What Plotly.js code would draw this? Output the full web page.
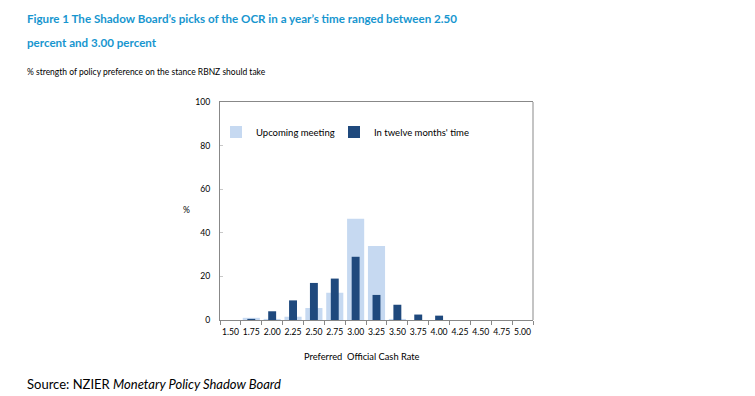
<!DOCTYPE html>
<html><head><meta charset="utf-8">
<script src="https://cdn.plot.ly/plotly-3.0.1.min.js"></script>
<style>html,body{margin:0;padding:0;background:#fff}#chart{width:755px;height:396px}</style>
</head><body><div id="chart"></div>
<script>
const categories = ["1.50","1.75","2.00","2.25","2.50","2.75","3.00","3.25","3.50","3.75","4.00","4.25","4.50","4.75","5.00"];
const upcoming = [0, 1, 0.5, 1.5, 5.5, 12.5, 46.5, 34, 0.5, 0, 0, 0, 0, 0, 0];
const twelveMonths = [0, 0.5, 4, 9, 17, 19, 29, 11.5, 7, 2.5, 2, 0, 0, 0, 0];
const yTicks = [0, 20, 40, 60, 80, 100];

const L = 220, R = 533, T = 102, B = 320, W = 755, H = 396;
const pw = R - L, ph = B - T;
const px = x => (x - L) / pw;
const py = y => (B - y) / ph;
const FAM = "Lato, 'Open Sans', sans-serif";

const ctx = document.createElement("canvas").getContext("2d");
function measure(parts, size) {
  let w = 0;
  for (const [t, style] of parts) { ctx.font = style + " " + size + "px Lato"; w += ctx.measureText(t).width; }
  return w;
}
function fit(parts, target) {
  const w = measure(parts, 100);
  return Math.round(100 * target / w * 10) / 10;
}

const t1 = "Figure 1 The Shadow Board’s picks of the OCR in a year’s time ranged between 2.50";
const titleSize = fit([[t1, "bold"]], 430);
const subSize = fit([["% strength of policy preference on the stance RBNZ should take", "normal"]], 238);
const srcSize = fit([["Source: NZIER ", "normal"], ["Monetary Policy Shadow Board", "italic"]], 255);
const xtSize = fit([["Preferred  Official Cash Rate", "normal"]], 115);
const legSize = fit([["Upcoming meeting", "normal"]], 79);
const tickSize = fit([["1.50", "normal"]], 17);

const traces = [
  {type: "bar", name: "Upcoming meeting", x: categories, y: upcoming,
   marker: {color: "#c6d9f1"}, width: 0.82, legend: "legend"},
  {type: "bar", name: "In twelve months' time", x: categories, y: twelveMonths,
   marker: {color: "#1f497d"}, width: 0.38, legend: "legend2"}
];

const legStyle = {orientation: "h", yanchor: "middle", xanchor: "left", y: py(132),
  font: {family: FAM, size: legSize, color: "#000"}, bgcolor: "rgba(0,0,0,0)"};

const layout = {
  width: W, height: H,
  margin: {l: L, r: W - R, t: T, b: H - B, pad: 0},
  paper_bgcolor: "#fff", plot_bgcolor: "#fff",
  barmode: "overlay",
  font: {family: FAM, size: tickSize, color: "#000"},
  showlegend: true,
  legend: Object.assign({}, legStyle, {x: px(216)}),
  legend2: Object.assign({}, legStyle, {x: px(334)}),
  xaxis: {type: "category", tickson: "boundaries", ticks: "outside", ticklen: 4, tickcolor: "#888",
          tickangle: 0, ticklabelstandoff: 4, showline: true, linecolor: "#888", linewidth: 1, mirror: true,
          showgrid: false, tickfont: {family: FAM, size: tickSize}, fixedrange: true},
  yaxis: {range: [0, 100], tickvals: yTicks, ticks: "inside", ticklen: 3, tickcolor: "#c8c8c8",
          ticklabelstandoff: 7, showline: true, linecolor: "#888", linewidth: 1, mirror: false, showgrid: false,
          zeroline: false, tickfont: {family: FAM, size: tickSize}, fixedrange: true},
  shapes: [
    {type: "line", xref: "paper", yref: "paper", x0: 1, x1: 1, y0: 0, y1: 1,
     line: {color: "#c4c4c4", width: 2}}
  ],
  annotations: [
    {text: "<b>" + t1 + "</b>",
     xref: "paper", yref: "paper", x: px(25), y: py(18), xanchor: "left", yanchor: "middle",
     showarrow: false, font: {family: FAM, size: titleSize, color: "#1796cf"}},
    {text: "<b>percent and 3.00 percent</b>",
     xref: "paper", yref: "paper", x: px(25), y: py(42), xanchor: "left", yanchor: "middle",
     showarrow: false, font: {family: FAM, size: titleSize, color: "#1796cf"}},
    {text: "% strength of policy preference on the stance RBNZ should take",
     xref: "paper", yref: "paper", x: px(25), y: py(72), xanchor: "left", yanchor: "middle",
     showarrow: false, font: {family: FAM, size: subSize, color: "#000"}},
    {text: "%", xref: "paper", yref: "paper", x: px(186), y: py(210), xanchor: "center", yanchor: "middle",
     showarrow: false, font: {family: FAM, size: tickSize, color: "#000"}},
    {text: "Preferred  Official Cash Rate", xref: "paper", yref: "paper", x: px(362), y: py(356),
     xanchor: "center", yanchor: "middle", showarrow: false, font: {family: FAM, size: xtSize, color: "#000"}},
    {text: "Source: NZIER <i>Monetary Policy Shadow Board</i>", xref: "paper", yref: "paper",
     x: px(25), y: py(384), xanchor: "left", yanchor: "middle", showarrow: false,
     font: {family: FAM, size: srcSize, color: "#000"}}
  ]
};

Plotly.newPlot("chart", traces, layout, {staticPlot: true, displayModeBar: false});
</script></body></html>
